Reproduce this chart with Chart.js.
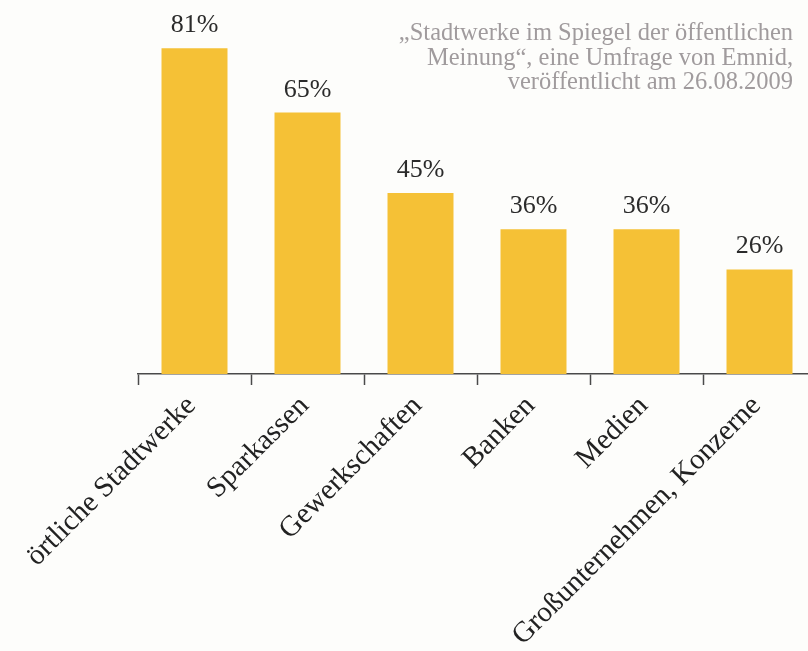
<!DOCTYPE html>
<html lang="de">
<head>
<meta charset="utf-8">
<title>Stadtwerke im Spiegel der öffentlichen Meinung</title>
<script src="https://cdn.jsdelivr.net/npm/chart.js@4.4.1/dist/chart.umd.min.js"></script>
<style>
  html, body {
    margin: 0;
    padding: 0;
    background: #fdfdfb;
    overflow: hidden;
  }
  #wrap {
    position: relative;
    width: 808px;
    height: 651px;
    overflow: hidden;
  }
  #wrap canvas {
    position: absolute;
    left: 0;
    top: 0;
  }
</style>
</head>
<body>
<div id="wrap">
  <canvas id="vertrauenChart" width="830" height="651"></canvas>
</div>
<script>
// Umfragewerte (Vertrauen in Prozent)
const kategorien = [
    'örtliche Stadtwerke',
    'Sparkassen',
    'Gewerkschaften',
    'Banken',
    'Medien',
    'Großunternehmen, Konzerne'
];
const werte = [81, 65, 45, 36, 36, 26];
const quelleZeilen = [
    '„Stadtwerke im Spiegel der öffentlichen',
    'Meinung“, eine Umfrage von Emnid,',
    'veröffentlicht am 26.08.2009'
];

const SCHRIFT = '"Liberation Serif", "DejaVu Serif", serif';
const BALKEN_FARBE = '#f5c136';

// Prozentwerte über den Balken
const wertLabels = {
    id: 'wertLabels',
    afterDatasetsDraw(chart) {
        const ctx = chart.ctx;
        const meta = chart.getDatasetMeta(0);
        ctx.save();
        ctx.font = '26px ' + SCHRIFT;
        ctx.fillStyle = '#2b2b2b';
        ctx.textAlign = 'center';
        ctx.textBaseline = 'alphabetic';
        meta.data.forEach((bar, i) => {
            ctx.fillText(werte[i] + '%', bar.x, bar.y - 16);
        });
        ctx.restore();
    }
};

// Quellenangabe oben rechts
const quelle = {
    id: 'quelle',
    afterDraw(chart) {
        const ctx = chart.ctx;
        ctx.save();
        ctx.font = '24.5px ' + SCHRIFT;
        ctx.fillStyle = '#a09b9d';
        ctx.textAlign = 'right';
        ctx.textBaseline = 'alphabetic';
        quelleZeilen.forEach((zeile, i) => {
            ctx.fillText(zeile, 793, 40 + i * 24.5);
        });
        ctx.restore();
    }
};

const ctx = document.getElementById('vertrauenChart');
const chart = new Chart(ctx, {
    type: 'bar',
    data: {
        labels: kategorien,
        datasets: [{
            data: werte,
            backgroundColor: BALKEN_FARBE,
            borderWidth: 0,
            categoryPercentage: 1,
            barPercentage: 0.584
        }]
    },
    options: {
        responsive: false,
        animation: false,
        layout: {
            padding: { left: 138, right: 14, top: 0, bottom: 0 }
        },
        plugins: {
            legend: { display: false },
            tooltip: { enabled: false }
        },
        scales: {
            x: {
                offset: true,
                grid: {
                    offset: true,
                    drawOnChartArea: false,
                    drawTicks: true,
                    tickLength: 11,
                    tickWidth: 1.5,
                    tickColor: '#4a4a4a'
                },
                border: {
                    display: true,
                    color: '#4a4a4a',
                    width: 1.5
                },
                ticks: {
                    minRotation: 45,
                    maxRotation: 45,
                    autoSkip: false,
                    padding: 4,
                    labelOffset: -3,
                    color: '#222222',
                    font: { family: SCHRIFT, size: 29 }
                },
                afterFit(scale) {
                    scale.height = 651 - 374;
                }
            },
            y: {
                display: false,
                min: 0,
                max: 93
            }
        }
    },
    plugins: [wertLabels, quelle]
});
</script>
</body>
</html>
